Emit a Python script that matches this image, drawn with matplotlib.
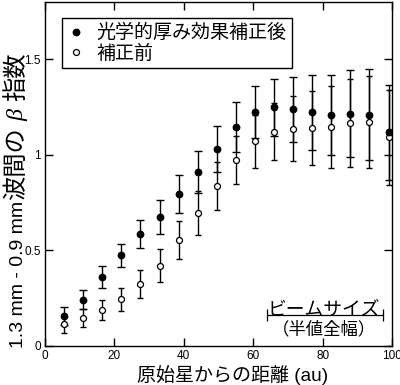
import matplotlib
matplotlib.use("Agg")
import matplotlib.pyplot as plt
from matplotlib.lines import Line2D

plt.rcParams['font.family'] = ['Liberation Sans', 'Noto Sans CJK JP']

# radius from protostar (au)
radius = [5.5, 11, 16.5, 22, 27.5, 33, 38.5, 44, 49.5, 55,
          60.5, 66, 71.5, 77, 82.5, 88, 93.5, 99]
# beta index after optical depth correction
beta_corr = [0.157, 0.243, 0.361, 0.475, 0.586, 0.674, 0.794, 0.911, 1.031, 1.147,
             1.222, 1.248, 1.239, 1.222, 1.209, 1.216, 1.209, 1.118]
beta_corr_err = [0.046, 0.049, 0.055, 0.061, 0.075, 0.088, 0.100, 0.111, 0.122, 0.130,
                 0.136, 0.148, 0.170, 0.195, 0.210, 0.227, 0.238, 0.248]
# beta index before correction
beta_raw = [0.115, 0.145, 0.188, 0.244, 0.325, 0.420, 0.555, 0.695, 0.838, 0.974,
            1.072, 1.122, 1.138, 1.141, 1.145, 1.169, 1.174, 1.092]
beta_raw_err = [0.045, 0.047, 0.054, 0.062, 0.074, 0.086, 0.100, 0.114, 0.126, 0.127,
                0.138, 0.148, 0.168, 0.194, 0.213, 0.230, 0.240, 0.250]
# beam size (FWHM) marker
beam_x = [64.0, 97.3]
beam_y = 0.162

labels = ['光学的厚み効果補正後', '補正前']
ylabel_parts = ['1.3 mm - 0.9 mm', '波間の', 'β', '指数']

fig = plt.figure(figsize=(4.0, 3.85), dpi=100)
ax = fig.add_axes([0.1125, 0.1013, 0.8675, 0.8935])

ax.errorbar(radius, beta_raw, yerr=beta_raw_err, fmt='none', ecolor='black',
            elinewidth=1.0, capsize=2.0, capthick=1.0, zorder=2)
ax.errorbar(radius, beta_corr, yerr=beta_corr_err, fmt='none', ecolor='black',
            elinewidth=1.0, capsize=3.0, capthick=1.0, zorder=2)
ax.plot(radius, beta_raw, 'o', ms=4.3, mfc='white', mec='black', mew=0.9, zorder=3)
ax.plot(radius, beta_corr, 'o', ms=4.6, mfc='black', mec='black', zorder=4)

# beam size bar
ax.errorbar([(beam_x[0] + beam_x[1]) / 2], [beam_y], xerr=[(beam_x[1] - beam_x[0]) / 2],
            fmt='none', ecolor='black', elinewidth=0.9, capsize=4.0, capthick=0.9)
ax.text(80.4, 0.189, 'ビームサイズ', ha='center', va='center', fontsize=13.5)
ax.text(80.4, 0.088, '（半値全幅）', ha='center', va='center', fontsize=12.5)

ax.set_xlim(0, 100)
ax.set_ylim(0, 1.8)
ax.set_xticks([0, 20, 40, 60, 80, 100])
ax.set_yticks([0, 0.5, 1, 1.5])
ax.set_yticklabels(['0', '0.5', '1', '1.5'])
ax.tick_params(direction='in', length=6, width=1.0, top=True, right=True,
               labelsize=8.5, pad=3)
for s in ax.spines.values():
    s.set_linewidth(1.0)

ax.set_xlabel('原始星からの距離 (au)', fontsize=13.7)
ax.xaxis.set_label_coords(0.54, -0.055)

handles = [Line2D([], [], ls='none', marker='o', ms=4.6, mfc='black', mec='black'),
           Line2D([], [], ls='none', marker='o', ms=4.3, mfc='white', mec='black', mew=0.9)]
leg = ax.legend(handles, labels, loc='upper left',
                bbox_to_anchor=(0.049, 0.953), fontsize=13.7, frameon=True,
                fancybox=False, framealpha=1, edgecolor='black',
                handlelength=0.9, handletextpad=0.6, borderpad=0.3,
                labelspacing=0.12, borderaxespad=0)
leg.get_frame().set_linewidth(1.0)

# y label built from pieces: Latin, CJK and an italic beta
part_style = [dict(family='Liberation Sans', size=14),
              dict(family='Noto Sans CJK JP', size=17.5),
              dict(family='Liberation Serif', style='italic', size=17.5),
              dict(family='Noto Sans CJK JP', size=17.5)]
gap_before = [0, 1, 6, 8]   # pixels
fig.canvas.draw()
renderer = fig.canvas.get_renderer()
ypos = 1 - 348 / 385
for txt, st, g in zip(ylabel_parts, part_style, gap_before):
    ypos += g / fig.bbox.height
    t = fig.text(23.0 / 400, ypos, txt, rotation=90, rotation_mode='anchor',
                 ha='left', va='baseline', **st)
    ypos += t.get_window_extent(renderer).height / fig.bbox.height

fig.savefig('out.png', dpi=100)
